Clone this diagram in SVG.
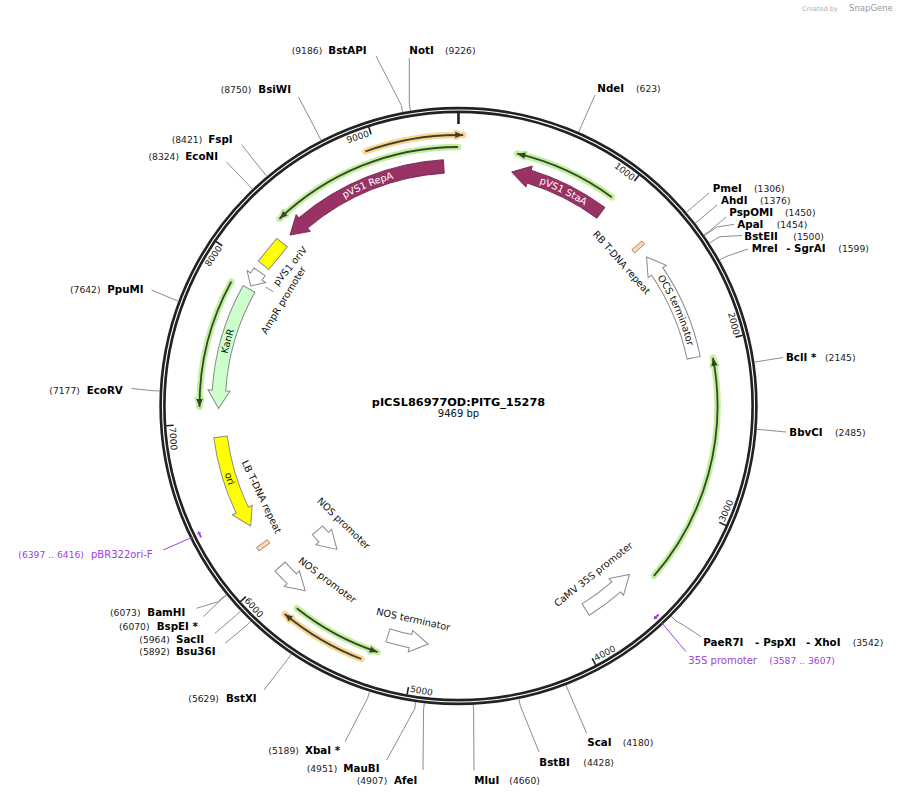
<svg xmlns="http://www.w3.org/2000/svg" width="899" height="797" viewBox="0 0 899 797">
<style>
.bb{fill:none;stroke:#222;stroke-width:6.4}
.bbw{fill:none;stroke:#fff;stroke-width:1.1}
.tk{stroke:#222;stroke-width:1.6}
.tk0{stroke:#222;stroke-width:2.6}
.tl{font-family:"DejaVu Sans",sans-serif;font-size:9px;fill:#222;dominant-baseline:central}
.ll{fill:none;stroke:#808080;stroke-width:0.9}
.n{font-family:"DejaVu Sans",sans-serif;font-size:9.2px;fill:#222}
.b{font-family:"DejaVu Sans",sans-serif;font-size:10.3px;font-weight:bold;fill:#000}
.fl{font-family:"DejaVu Sans",sans-serif;font-size:9.7px;fill:#111}
.cl{text-anchor:middle;dominant-baseline:central}
.wa{fill:#fff;stroke:#8a8a8a;stroke-width:1}
.mar{fill:#993366;stroke:#6d2448;stroke-width:0.8}
.yel{fill:#ffff00;stroke:#8a8a8a;stroke-width:1}
.kan{fill:#ccffcc;stroke:#8a8a8a;stroke-width:1}
.tdna{fill:#fdd9b5;stroke:#9a7a5a;stroke-width:0.8}
.gg{fill:none;stroke:#c0f19b;stroke-width:6.5;stroke-linecap:round}
.og{fill:none;stroke:#fdd592;stroke-width:6.5;stroke-linecap:round}
.orf{fill:none;stroke:#3b4232;stroke-width:1.8}
.ggh{fill:#c0f19b;stroke:#c0f19b;stroke-width:4;stroke-linejoin:round}
.ogh{fill:#fdd592;stroke:#fdd592;stroke-width:4;stroke-linejoin:round}
.orfh{fill:#3b4232}
.pp{fill:none;stroke:#a040e0;stroke-width:1}
.pt{font-family:"DejaVu Sans",sans-serif;font-size:10px;fill:#a040e0}
.ptn{font-family:"DejaVu Sans",sans-serif;font-size:9.2px;fill:#a040e0}
</style>
<defs>
<path id="cw" d="M458.5,169.3 A236.7,236.7 0 1,1 458.5,642.7 A236.7,236.7 0 1,1 458.5,169.3"/>
<path id="ccw" d="M458.5,162.7 A243.3,243.3 0 1,0 458.5,649.3 A243.3,243.3 0 1,0 458.5,162.7"/>
</defs>
<rect width="899" height="797" fill="#fff"/>
<g id="watermark">
<text x="802" y="11" style="font-family:'DejaVu Sans',sans-serif;font-size:6.5px;fill:#aaa">Created by</text>
<text x="849" y="11" style="font-family:'DejaVu Sans',sans-serif;font-size:8.5px;fill:#999">SnapGene</text>
</g>
<g id="backbone">
<circle cx="458.5" cy="406" r="296" class="bb"/>
<circle cx="458.5" cy="406" r="296" class="bbw"/>
<line x1="458.5" y1="113" x2="458.5" y2="124" class="tk0"/>
<g class="tk">
<line x1="458.5" y1="113" x2="458.5" y2="120.5" transform="rotate(38.019 458.5 406)"/>
<line x1="458.5" y1="113" x2="458.5" y2="120.5" transform="rotate(76.038 458.5 406)"/>
<line x1="458.5" y1="113" x2="458.5" y2="120.5" transform="rotate(114.057 458.5 406)"/>
<line x1="458.5" y1="113" x2="458.5" y2="120.5" transform="rotate(152.076 458.5 406)"/>
<line x1="458.5" y1="113" x2="458.5" y2="120.5" transform="rotate(190.094 458.5 406)"/>
<line x1="458.5" y1="113" x2="458.5" y2="120.5" transform="rotate(228.113 458.5 406)"/>
<line x1="458.5" y1="113" x2="458.5" y2="120.5" transform="rotate(266.132 458.5 406)"/>
<line x1="458.5" y1="113" x2="458.5" y2="120.5" transform="rotate(304.151 458.5 406)"/>
<line x1="458.5" y1="113" x2="458.5" y2="120.5" transform="rotate(342.17 458.5 406)"/>
</g>
<text class="tl" x="456.5" y="119" text-anchor="end" transform="rotate(38.019 458.5 406)">1000</text>
<text class="tl" x="456.5" y="119" text-anchor="end" transform="rotate(76.038 458.5 406)">2000</text>
<text class="tl" x="460.5" y="693" transform="rotate(-65.943 458.5 406)">3000</text>
<text class="tl" x="460.5" y="693" transform="rotate(-27.924 458.5 406)">4000</text>
<text class="tl" x="460.5" y="693" transform="rotate(10.094 458.5 406)">5000</text>
<text class="tl" x="460.5" y="693" transform="rotate(48.113 458.5 406)">6000</text>
<text class="tl" x="460.5" y="693" transform="rotate(86.132 458.5 406)">7000</text>
<text class="tl" x="456.5" y="119" text-anchor="end" transform="rotate(304.151 458.5 406)">8000</text>
<text class="tl" x="456.5" y="119" text-anchor="end" transform="rotate(342.17 458.5 406)">9000</text>
</g>
<g id="title">
<text x="458.5" y="405.5" text-anchor="middle" style="font-family:'DejaVu Sans',sans-serif;font-size:11.3px;font-weight:bold;fill:#000">pICSL86977OD:PITG_15278</text>
<text x="458.5" y="416.8" text-anchor="middle" style="font-family:'DejaVu Sans',sans-serif;font-size:10px;fill:#111">9469 bp</text>
</g>
<g id="orfs">
<g id="orf1">
<circle cx="458.5" cy="406" r="271" pathLength="360" stroke-dasharray="21.1 338.9" transform="rotate(249.9 458.5 406)" class="og"/>
<polygon points="458.5,135 450.5,131.8 450.5,138.2" transform="rotate(1 458.5 406)" class="ogh"/>
<circle cx="458.5" cy="406" r="271" pathLength="360" stroke-dasharray="21.1 338.9" transform="rotate(249.9 458.5 406)" class="orf"/>
<polygon points="458.5,135 450.5,131.8 450.5,138.2" transform="rotate(1 458.5 406)" class="orfh"/>
</g>
<g id="orf2">
<circle cx="458.5" cy="406" r="259" pathLength="360" stroke-dasharray="43.6 316.4" transform="rotate(226.3 458.5 406)" class="gg"/>
<polygon points="458.5,147 466.5,143.8 466.5,150.2" transform="rotate(316.3 458.5 406)" class="ggh"/>
<circle cx="458.5" cy="406" r="259" pathLength="360" stroke-dasharray="43.6 316.4" transform="rotate(226.3 458.5 406)" class="orf"/>
<polygon points="458.5,147 466.5,143.8 466.5,150.2" transform="rotate(316.3 458.5 406)" class="orfh"/>
</g>
<g id="orf3">
<circle cx="458.5" cy="406" r="259" pathLength="360" stroke-dasharray="23.2 336.8" transform="rotate(-76.9 458.5 406)" class="gg"/>
<polygon points="458.5,147 466.5,143.8 466.5,150.2" transform="rotate(13.1 458.5 406)" class="ggh"/>
<circle cx="458.5" cy="406" r="259" pathLength="360" stroke-dasharray="23.2 336.8" transform="rotate(-76.9 458.5 406)" class="orf"/>
<polygon points="458.5,147 466.5,143.8 466.5,150.2" transform="rotate(13.1 458.5 406)" class="orfh"/>
</g>
<g id="orf4">
<circle cx="458.5" cy="406" r="259" pathLength="360" stroke-dasharray="51.7 308.3" transform="rotate(-10.7 458.5 406)" class="gg"/>
<polygon points="458.5,147 466.5,143.8 466.5,150.2" transform="rotate(79.3 458.5 406)" class="ggh"/>
<circle cx="458.5" cy="406" r="259" pathLength="360" stroke-dasharray="51.7 308.3" transform="rotate(-10.7 458.5 406)" class="orf"/>
<polygon points="458.5,147 466.5,143.8 466.5,150.2" transform="rotate(79.3 458.5 406)" class="orfh"/>
</g>
<g id="orf5">
<circle cx="458.5" cy="406" r="259" pathLength="360" stroke-dasharray="28.9 331.1" transform="rotate(179.8 458.5 406)" class="gg"/>
<polygon points="458.5,147 466.5,143.8 466.5,150.2" transform="rotate(269.8 458.5 406)" class="ggh"/>
<circle cx="458.5" cy="406" r="259" pathLength="360" stroke-dasharray="28.9 331.1" transform="rotate(179.8 458.5 406)" class="orf"/>
<polygon points="458.5,147 466.5,143.8 466.5,150.2" transform="rotate(269.8 458.5 406)" class="orfh"/>
</g>
<g id="orf6">
<circle cx="458.5" cy="406" r="259" pathLength="360" stroke-dasharray="20.45 339.55" transform="rotate(108.2 458.5 406)" class="gg"/>
<polygon points="458.5,147 466.5,143.8 466.5,150.2" transform="rotate(198.2 458.5 406)" class="ggh"/>
<circle cx="458.5" cy="406" r="259" pathLength="360" stroke-dasharray="20.45 339.55" transform="rotate(108.2 458.5 406)" class="orf"/>
<polygon points="458.5,147 466.5,143.8 466.5,150.2" transform="rotate(198.2 458.5 406)" class="orfh"/>
</g>
<g id="orf7">
<circle cx="458.5" cy="406" r="271" pathLength="360" stroke-dasharray="18.9 341.1" transform="rotate(111 458.5 406)" class="og"/>
<polygon points="458.5,135 450.5,131.8 450.5,138.2" transform="rotate(219.9 458.5 406)" class="ogh"/>
<circle cx="458.5" cy="406" r="271" pathLength="360" stroke-dasharray="18.9 341.1" transform="rotate(111 458.5 406)" class="orf"/>
<polygon points="458.5,135 450.5,131.8 450.5,138.2" transform="rotate(219.9 458.5 406)" class="orfh"/>
</g>
</g>
<g id="features">
<g id="pVS1-RepA">
<path class="mar" transform="rotate(315.4 458.5 406)" d="M458.5,166 L477.31,155.71 L476.99,159.94 A246.75,246.75 0 0 1 620.71,220.06 L611.83,230.23 A233.25,233.25 0 0 0 475.98,173.41 L475.66,177.64 Z"/>
<text class="fl" fill="#fff" style="fill:#fff" text-anchor="middle"><textPath href="#cw" startOffset="1394.28">pVS1 RepA</textPath></text>
</g>
<g id="pVS1-StaA">
<path class="mar" transform="rotate(12.8 458.5 406)" d="M458.5,166 L477.31,155.71 L476.99,159.94 A246.75,246.75 0 0 1 557.29,179.88 L551.88,192.25 A233.25,233.25 0 0 0 475.98,173.41 L475.66,177.64 Z"/>
<text class="fl" style="fill:#fff" text-anchor="middle"><textPath href="#cw" startOffset="107.41">pVS1 StaA</textPath></text>
</g>
<g id="RB-T-DNA-repeat">
<rect class="tdna" x="456.4" y="159.25" width="4.2" height="13.5" transform="rotate(48.5 458.5 406)"/>
<text class="fl cl" x="621.7" y="262.5" transform="rotate(48.5 621.7 262.5)">RB T-DNA repeat</text>
</g>
<g id="OCS-terminator">
<path class="wa" transform="rotate(51.6 458.5 406)" d="M458.5,166 L477.31,155.71 L476.99,159.94 A246.75,246.75 0 0 1 569.76,185.75 L563.67,197.80 A233.25,233.25 0 0 0 475.98,173.41 L475.66,177.64 Z"/>
<text class="fl" text-anchor="middle"><textPath href="#cw" startOffset="273.48">OCS terminator</textPath></text>
</g>
<g id="CaMV-35S-promoter">
<path class="wa" transform="rotate(134.6 458.5 406)" d="M458.5,166 L477.31,155.71 L476.99,159.94 A246.75,246.75 0 0 1 515.68,165.96 L512.56,179.09 A233.25,233.25 0 0 0 475.98,173.41 L475.66,177.64 Z"/>
<text class="fl cl" x="593.3" y="574.2" transform="rotate(-38.5 593.3 574.2)">CaMV 35S promoter</text>
</g>
<g id="NOS-terminator">
<path class="wa" transform="rotate(187.25 458.5 406)" d="M458.5,166 L477.31,155.71 L476.99,159.94 A246.75,246.75 0 0 1 500.71,162.88 L498.40,176.19 A233.25,233.25 0 0 0 475.98,173.41 L475.66,177.64 Z"/>
<text class="fl cl" x="413.3" y="619.2" transform="rotate(12.5 413.3 619.2)">NOS terminator</text>
</g>
<g id="NOS-promoter-2">
<path class="wa" transform="rotate(219.7 458.5 406)" d="M458.5,166 L477.31,155.71 L476.99,159.94 A246.75,246.75 0 0 1 494.12,161.83 L492.17,175.19 A233.25,233.25 0 0 0 475.98,173.41 L475.66,177.64 Z"/>
<text class="fl cl" x="327.5" y="580" transform="rotate(37 327.5 580)">NOS promoter</text>
</g>
<g id="NOS-promoter-1">
<path class="wa" transform="rotate(220.3 458.5 406)" d="M458.5,218 L477.52,207.91 L477.12,212.14 A194.75,194.75 0 0 1 486.61,213.29 L484.67,226.65 A181.25,181.25 0 0 0 475.83,225.58 L475.42,229.81 Z"/>
<text class="fl cl" x="343.7" y="523.3" transform="rotate(44 343.7 523.3)">NOS promoter</text>
</g>
<g id="LB-T-DNA-repeat">
<rect class="tdna" x="456.4" y="159.25" width="4.2" height="13.5" transform="rotate(234.5 458.5 406)"/>
<text class="fl cl" x="261.7" y="496.7" transform="rotate(64.5 261.7 496.7)">LB T-DNA repeat</text>
</g>
<g id="ori">
<path class="yel" transform="rotate(240 458.5 406)" d="M458.5,166 L477.31,155.71 L476.99,159.94 A246.75,246.75 0 0 1 553.33,178.20 L548.14,190.66 A233.25,233.25 0 0 0 475.98,173.41 L475.66,177.64 Z"/>
<text class="fl" text-anchor="middle"><textPath href="#ccw" startOffset="456.9">ori</textPath></text>
</g>
<g id="KanR">
<path class="kan" transform="rotate(269.4 458.5 406)" d="M458.5,166 L477.31,155.71 L476.99,159.94 A246.75,246.75 0 0 1 581.13,191.88 L574.42,203.59 A233.25,233.25 0 0 0 475.98,173.41 L475.66,177.64 Z"/>
<text class="fl" text-anchor="middle"><textPath href="#cw" startOffset="1179.87">KanR</textPath></text>
</g>
<g id="AmpR-promoter">
<path class="wa" transform="rotate(300 458.5 406)" d="M458.5,166 L470.00,155.26 L469.81,159.51 A246.75,246.75 0 0 1 475.71,159.85 L474.77,173.32 A233.25,233.25 0 0 0 469.19,172.99 L468.99,177.24 Z"/>
<line class="ll" x1="265.5" y1="287" x2="273.3" y2="291.7"/>
<text class="fl cl" x="283.3" y="300" transform="rotate(-58.5 283.3 300)">AmpR promoter</text>
</g>
<g id="pVS1-oriV">
<rect class="yel" x="443.85" y="159.25" width="29.3" height="13.5" transform="rotate(309.3 458.5 406)"/>
<text class="fl cl" x="290" y="266" transform="rotate(-50.7 290 266)">pVS1 oriV</text>
</g>
</g>
<g id="primers">
<g id="pBR322ori-F">
<g transform="rotate(243.55 458.5 406)">
<line x1="455.5" y1="117" x2="460" y2="117" stroke="#a040e0" stroke-width="2"/>
<polygon points="462.5,117 459.5,114.8 459.5,119.2" fill="#a040e0"/>
</g>
<polyline class="pp" points="163.3,550 194,536.5"/>
<text class="ptn" x="18.3" y="558.2">(6397 .. 6416)</text>
<text class="pt" x="91" y="558.2">pBR322ori-F</text>
</g>
<g id="p35S-promoter">
<g transform="rotate(136.75 458.5 406)">
<line x1="455.5" y1="117" x2="460" y2="117" stroke="#a040e0" stroke-width="2"/>
<polygon points="462.5,117 459.5,114.8 459.5,119.2" fill="#a040e0"/>
</g>
<polyline class="pp" points="661.5,622.5 686,651.7"/>
<text class="pt" x="688.3" y="663.7">35S promoter</text>
<text class="ptn" x="769.3" y="663.7">(3587 .. 3607)</text>
</g>
</g>
<g id="sites">
<g id="BstAPI"><polyline class="ll" points="402.68,112.26 401.38,105.38 376,56"/><text class="n" x="291.7" y="53.7">(9186)</text><text class="b" x="328.3" y="53.7">BstAPI</text></g>
<g id="NotI"><polyline class="ll" points="410.49,110.88 409.37,103.97 409.3,58"/><text class="b" x="409.3" y="53.7">NotI</text><text class="n" x="445" y="53.7">(9226)</text></g>
<g id="BsiWI"><polyline class="ll" points="321.18,140.40 317.96,134.18 298.5,97"/><text class="n" x="220.7" y="92.7">(8750)</text><text class="b" x="258.3" y="92.7">BsiWI</text></g>
<g id="FspI"><polyline class="ll" points="266.95,176.41 262.46,171.04 241.5,144.5"/><text class="n" x="171.7" y="142.7">(8421)</text><text class="b" x="208.3" y="142.7">FspI</text></g>
<g id="EcoNI"><polyline class="ll" points="252.57,189.22 247.75,184.14 226.5,162"/><text class="n" x="148.5" y="159.7">(8324)</text><text class="b" x="185.3" y="159.7">EcoNI</text></g>
<g id="PpuMI"><polyline class="ll" points="178.51,301.09 171.96,298.63 151.5,290"/><text class="n" x="70" y="292.7">(7642)</text><text class="b" x="107.3" y="292.7">PpuMI</text></g>
<g id="EcoRV"><polyline class="ll" points="159.87,391.03 152.88,390.68 131.5,388.5"/><text class="n" x="49.3" y="393.7">(7177)</text><text class="b" x="86.7" y="393.7">EcoRV</text></g>
<g id="NdeI"><polyline class="ll" points="578.61,132.18 581.42,125.77 595,95"/><text class="b" x="597.3" y="91.7">NdeI</text><text class="n" x="636" y="91.7">(623)</text></g>
<g id="PmeI"><polyline class="ll" points="686.36,212.41 691.70,207.87 709,193"/><text class="b" x="712.7" y="191.7">PmeI</text><text class="n" x="754" y="191.7">(1306)</text></g>
<g id="AhdI"><polyline class="ll" points="695.09,223.17 700.63,218.89 717,205"/><text class="b" x="721" y="204.2">AhdI</text><text class="n" x="760" y="204.2">(1376)</text></g>
<g id="PspOMI"><polyline class="ll" points="703.81,235.04 709.55,231.04 726,217"/><text class="b" x="729.3" y="215.7">PspOMI</text><text class="n" x="785" y="215.7">(1450)</text></g>
<g id="ApaI"><polyline class="ll" points="704.26,235.70 710.01,231.71 717,227 734,224.3"/><text class="b" x="737.3" y="227.7">ApaI</text><text class="n" x="776.7" y="227.7">(1454)</text></g>
<g id="BstEII"><polyline class="ll" points="709.35,243.28 715.22,239.47 720,236.7 742,235.5"/><text class="b" x="744.3" y="239.7">BstEII</text><text class="n" x="793.3" y="239.7">(1500)</text></g>
<g id="MreI-SgrAI"><polyline class="ll" points="719.49,260.10 725.60,256.69 748,249"/><text class="b" x="751.7" y="252.2">MreI</text><text class="b" x="786.3" y="252.2">-</text><text class="b" x="794" y="252.2">SgrAI</text><text class="n" x="838.3" y="252.2">(1599)</text></g>
<g id="BclI"><polyline class="ll" points="754.25,362.06 761.18,361.03 783,357.5"/><text class="b" x="786" y="360.7">BclI *</text><text class="n" x="825" y="360.7">(2145)</text></g>
<g id="BbvCI"><polyline class="ll" points="756.59,429.34 763.57,429.89 786,432"/><text class="b" x="789.3" y="435.7">BbvCI</text><text class="n" x="835" y="435.7">(2485)</text></g>
<g id="PaeR7I-PspXI-XhoI"><polyline class="ll" points="671.17,616.18 676.14,621.10 683.3,625 701,636.7"/><text class="b" x="703.3" y="645.7">PaeR7I</text><text class="b" x="755" y="645.7">-</text><text class="b" x="763.3" y="645.7">PspXI</text><text class="b" x="806" y="645.7">-</text><text class="b" x="814.3" y="645.7">XhoI</text><text class="n" x="852.7" y="645.7">(3542)</text></g>
<g id="ScaI"><polyline class="ll" points="566.05,684.99 568.57,691.52 586.7,733.3"/><text class="b" x="587.3" y="746.2">ScaI</text><text class="n" x="622.7" y="746.2">(4180)</text></g>
<g id="BstBI"><polyline class="ll" points="518.88,698.84 520.29,705.70 539,752"/><text class="b" x="539.3" y="765.7">BstBI</text><text class="n" x="583.3" y="765.7">(4428)</text></g>
<g id="MluI"><polyline class="ll" points="473.26,704.64 473.61,711.63 474,770.5"/><text class="b" x="474.3" y="783.7">MluI</text><text class="n" x="509.3" y="783.7">(4660)</text></g>
<g id="AfeI"><polyline class="ll" points="424.34,703.04 423.54,710.0 423,770"/><text class="n" x="356.7" y="783.7">(4907)</text><text class="b" x="394" y="783.7">AfeI</text></g>
<g id="MauBI"><polyline class="ll" points="415.70,701.92 414.70,708.85 386.7,760"/><text class="n" x="306.7" y="771.7">(4951)</text><text class="b" x="343.3" y="771.7">MauBI</text></g>
<g id="XbaI"><polyline class="ll" points="369.68,691.50 367.60,698.19 345,741.7"/><text class="n" x="268.3" y="754.2">(5189)</text><text class="b" x="305" y="754.2">XbaI *</text></g>
<g id="BstXI"><polyline class="ll" points="291.27,653.86 287.36,659.66 264,690"/><text class="n" x="188.3" y="701.7">(5629)</text><text class="b" x="226" y="701.7">BstXI</text></g>
<g id="BamHI"><polyline class="ll" points="226.45,594.55 220.94,598.96 218.3,601.7 196.7,608.3"/><text class="n" x="110" y="616.2">(6073)</text><text class="b" x="147.3" y="616.2">BamHI</text></g>
<g id="BspEI"><polyline class="ll" points="226.80,594.99 221.38,599.42 203.3,616.7"/><text class="n" x="119" y="629.7">(6070)</text><text class="b" x="156.7" y="629.7">BspEI *</text></g>
<g id="SacII"><polyline class="ll" points="240.78,610.93 235.68,615.73 215,633.3"/><text class="n" x="139.3" y="642.7">(5964)</text><text class="b" x="176" y="642.7">SacII</text></g>
<g id="Bsu36I"><polyline class="ll" points="250.80,621.08 245.93,626.12 225,643.3"/><text class="n" x="139.3" y="655.4">(5892)</text><text class="b" x="176" y="655.4">Bsu36I</text></g>
</g>
</svg>
